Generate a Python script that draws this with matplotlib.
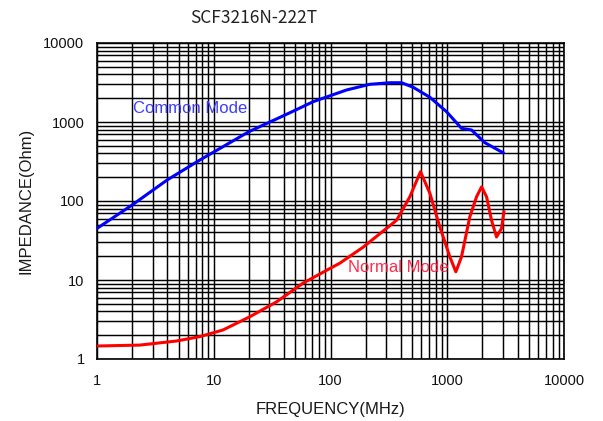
import matplotlib
matplotlib.use("Agg")
import matplotlib.pyplot as plt
from matplotlib.ticker import LogLocator, NullFormatter

# ---- data ----
title_text = "SCF3216N-222T"
x_label = "FREQUENCY(MHz)"
y_label = "IMPEDANCE(Ohm)"
tick_values = [1, 10, 100, 1000, 10000]
tick_labels = ["1", "10", "100", "1000", "10000"]

cm_freq = [1, 2, 4, 7.6, 12, 20, 37, 45, 71, 137, 217, 323, 406, 511, 710,
           986, 1325, 1615, 2100, 3000]
cm_z = [45, 89, 185, 330, 487, 754, 1147, 1312, 1807, 2540, 3000, 3143, 3143,
        2750, 2055, 1350, 832, 792, 547, 409]

nm_freq = [1, 2.33, 4.8, 7.6, 12, 20.4, 34.6, 58, 99, 120, 190, 368, 478, 590,
           710, 864, 1052, 1185, 1325, 1560, 1782, 1968, 2172, 2394, 2643,
           2917, 3055]
nm_z = [1.46, 1.5, 1.69, 1.92, 2.33, 3.43, 5.3, 9.1, 14, 16.3, 26, 57, 113,
        235, 125, 47, 19.7, 12.7, 19.7, 63, 113, 151, 113, 57, 35, 45, 73]

cm_label = "Common Mode"
cm_label_pos = (2.03, 1500)
nm_label = "Normal Mode"
nm_label_pos = (141, 14.2)

# ---- figure ----
fig = plt.figure(figsize=(6.03, 4.21), dpi=100)
ax = fig.add_axes([97 / 603, 1 - 359 / 421, (564 - 97) / 603, (359 - 43) / 421])

ax.set_xscale("log")
ax.set_yscale("log")
ax.set_xlim(1, 10000)
ax.set_ylim(1, 10000)

ax.xaxis.set_minor_locator(LogLocator(base=10, subs=range(2, 10), numticks=20))
ax.yaxis.set_minor_locator(LogLocator(base=10, subs=range(2, 10), numticks=20))
ax.xaxis.set_minor_formatter(NullFormatter())
ax.yaxis.set_minor_formatter(NullFormatter())
ax.grid(True, which="both", color="black", linewidth=1.05)
ax.set_axisbelow(True)

ax.plot(cm_freq, cm_z, color="#0000ff", linewidth=2.2, zorder=3)
ax.plot(nm_freq, nm_z, color="#ff0000", linewidth=2.2, zorder=3)

ax.set_xticks(tick_values)
ax.set_xticklabels(tick_labels)
ax.set_yticks(tick_values)
ax.set_yticklabels(tick_labels)
ax.tick_params(axis="both", which="both", length=0)
ax.tick_params(axis="x", pad=11)
ax.tick_params(axis="y", pad=9)
for lab in ax.get_xticklabels() + ax.get_yticklabels():
    lab.set_family("Liberation Sans")
    lab.set_fontsize(10.5)
    lab.set_color("#111111")

for sp in ax.spines.values():
    sp.set_color("black")
    sp.set_linewidth(1.2)

ax.text(cm_label_pos[0], cm_label_pos[1], cm_label, color="#3c3cff",
        fontsize=12, family="Liberation Sans", va="center", ha="left", zorder=4)
ax.text(nm_label_pos[0], nm_label_pos[1], nm_label, color="#ff2a4a",
        fontsize=12, family="Liberation Sans", va="center", ha="left", zorder=4)

ax.set_xlabel(x_label, family="Liberation Sans", fontsize=12, labelpad=10,
              color="#1a1a1a")
ax.set_ylabel(y_label, family="Liberation Sans", fontsize=12, labelpad=7,
              color="#1a1a1a")

fig.text(254 / 603, 1 - 18 / 421, title_text, family=["Noto Sans CJK TC", "DejaVu Sans"],
         fontsize=12.5, fontweight="light", ha="center", va="center", color="#222222")

fig.savefig("out.png", dpi=100)
